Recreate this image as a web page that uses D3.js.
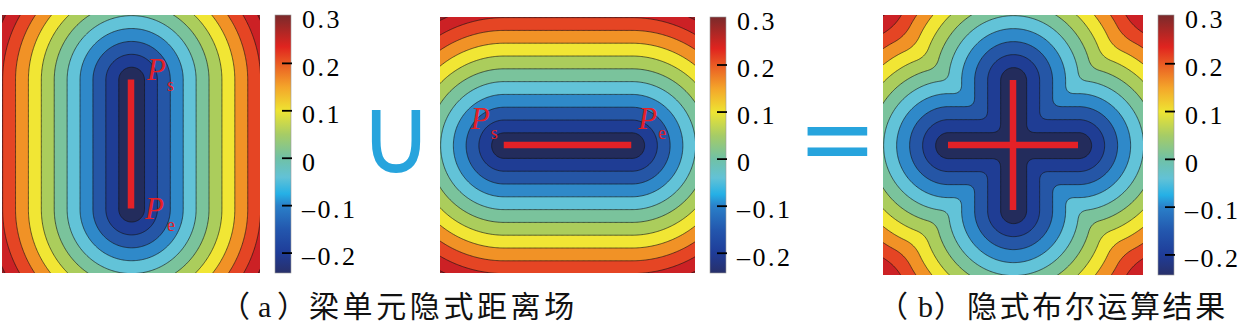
<!DOCTYPE html>
<html><head><meta charset="utf-8">
<script src="https://cdn.jsdelivr.net/npm/d3@7"></script>
<style>html,body{margin:0;padding:0;background:#fff;overflow:hidden}svg{display:block}</style>
</head><body><svg id="c" width="1247" height="331"></svg>
<script>
// ---------------- data ----------------
const segVertical = [[0.5, 0.25], [0.5, 0.75]];     // beam element a (vertical)
const segHorizontal = [[0.25, 0.5], [0.75, 0.5]];   // beam element b (horizontal)
const offsetRadius = 0.25;                          // implicit field = distance - radius
const blendK = 0.035;                               // smooth boolean union blend
const levels = [-0.2, -0.15, -0.1, -0.05, 0, 0.05, 0.1, 0.15, 0.2, 0.25, 0.3];
const bandColors = ["#232c5c", "#1f3d94", "#2556a6", "#2f89c9", "#62c3d8", "#7ac39c",
                    "#abcd5c", "#f1e634", "#f19226", "#e54524", "#cc2125", "#941e24"];
const cbStopValues = [-0.242, -0.2, -0.15, -0.1, -0.075, -0.04, 0, 0.05, 0.1, 0.15, 0.2, 0.235, 0.302];
const cbStopColors = ["#28306a", "#1f3c98", "#2357ae", "#2a80c9", "#25b0e6", "#62c2d6", "#70c1a6",
                      "#a6cc66", "#eee432", "#f4a52a", "#ea5a23", "#e0241f", "#7a2a2b"];
const cbDomain = [-0.242, 0.302];
const cbTicks = [-0.2, -0.1, 0, 0.1, 0.2, 0.3];
const cbTickLabels = ["–0.2", "–0.1", "0", "0.1", "0.2", "0.3"];
const captionA = ["（", "a", "）", "梁单元隐式距离场"];
const captionB = ["（", "b", "）", "隐式布尔运算结果"];
const unionSymbol = "∪";
const equalSymbol = "=";

// ---------------- layout ----------------
const SERIF = "'Liberation Serif', 'Times New Roman', 'DejaVu Serif', serif";
const panels = [
  {plot: [2, 15, 260, 273], cb: [275, 15, 291, 273], segs: [segVertical], union: false,
   labels: [{seg: 0, end: 0, p: [16, 0], s: [36, 11], sub: "s"},
            {seg: 0, end: 1, p: [14, 10], s: [36, 22], sub: "e"}]},
  {plot: [440, 17, 695, 273], cb: [710, 17, 726, 273], segs: [segHorizontal], union: false,
   labels: [{seg: 0, end: 0, p: [-33, -16], s: [-13, -6], sub: "s"},
            {seg: 0, end: 1, p: [7, -16], s: [27, -6], sub: "e"}]},
  {plot: [883, 15, 1143, 275], cb: [1158, 15, 1174, 275], segs: [segVertical, segHorizontal], union: true,
   labels: []}
];

const svg = d3.select("#c");
svg.append("rect").attr("width", 1247).attr("height", 331).attr("fill", "#fff");
const defs = svg.append("defs");

function segDist(px, py, s) {
  const ax = s[0][0], ay = s[0][1], bx = s[1][0], by = s[1][1];
  const dx = bx - ax, dy = by - ay;
  let t = ((px - ax) * dx + (py - ay) * dy) / (dx * dx + dy * dy);
  t = Math.max(0, Math.min(1, t));
  return Math.hypot(px - ax - t * dx, py - ay - t * dy);
}
function smin(a, b, k) {
  const h = Math.max(k - Math.abs(a - b), 0) / k;
  return Math.min(a, b) - h * h * k * 0.25;
}

// gradient for colorbars
const grad = defs.append("linearGradient").attr("id", "cbgrad")
  .attr("x1", 0).attr("y1", 1).attr("x2", 0).attr("y2", 0);
cbStopValues.forEach((v, i) => {
  grad.append("stop").attr("offset", (v - cbDomain[0]) / (cbDomain[1] - cbDomain[0]))
    .attr("stop-color", cbStopColors[i]);
});

const n = 221, g0 = -0.03, g1 = 1.03, step = (g1 - g0) / (n - 1);

panels.forEach((P, pi) => {
  const [x0, y0, x1, y1] = P.plot;
  const xs = d3.scaleLinear([0, 1], [x0, x1]);
  const ys = d3.scaleLinear([0, 1], [y0, y1]);
  const values = new Float64Array(n * n);
  for (let j = 0; j < n; j++) {
    for (let i = 0; i < n; i++) {
      const px = g0 + i * step, py = g0 + j * step;
      let f = segDist(px, py, P.segs[0]) - offsetRadius;
      for (let k = 1; k < P.segs.length; k++) {
        const f2 = segDist(px, py, P.segs[k]) - offsetRadius;
        f = P.union ? smin(f, f2, blendK) : Math.min(f, f2);
      }
      values[j * n + i] = f;
    }
  }
  const contours = d3.contours().size([n, n]).thresholds(levels)(values);
  const proj = d3.geoTransform({
    point: function (x, y) { this.stream.point(xs(g0 + x * step), ys(g0 + y * step)); }
  });
  const path = d3.geoPath(proj);
  defs.append("clipPath").attr("id", "clip" + pi).append("rect")
    .attr("x", x0).attr("y", y0).attr("width", x1 - x0).attr("height", y1 - y0);
  const g = svg.append("g").attr("clip-path", `url(#clip${pi})`);
  g.append("rect").attr("x", x0).attr("y", y0).attr("width", x1 - x0).attr("height", y1 - y0)
    .attr("fill", bandColors[0]);
  g.selectAll("path.band").data(contours).join("path").attr("class", "band")
    .attr("d", path).attr("fill", (d, i) => bandColors[i + 1]);
  g.selectAll("path.line").data(contours).join("path").attr("class", "line")
    .attr("d", path).attr("fill", "none").attr("stroke", "#151515").attr("stroke-width", 0.75)
    .attr("stroke-opacity", 0.85);

  // segments
  svg.append("g").selectAll("line").data(P.segs).join("line")
    .attr("x1", d => xs(d[0][0])).attr("y1", d => ys(d[0][1]))
    .attr("x2", d => xs(d[1][0])).attr("y2", d => ys(d[1][1]))
    .attr("stroke", "#e42127").attr("stroke-width", 6.5);

  // labels
  P.labels.forEach(L => {
    const pt = P.segs[L.seg][L.end];
    const ex = xs(pt[0]), ey = ys(pt[1]);
    svg.append("text").attr("x", ex + L.p[0]).attr("y", ey + L.p[1])
      .attr("font-family", SERIF).attr("font-style", "italic")
      .attr("font-size", 31).attr("fill", "#e42127").text("P");
    svg.append("text").attr("x", ex + L.s[0]).attr("y", ey + L.s[1])
      .attr("font-family", SERIF).attr("font-size", 18)
      .attr("fill", "#e42127").text(L.sub);
  });

  // colorbar
  const [cx0, cy0, cx1, cy1] = P.cb;
  const cs = d3.scaleLinear(cbDomain, [cy1, cy0]);
  svg.append("rect").attr("x", cx0).attr("y", cy0).attr("width", cx1 - cx0).attr("height", cy1 - cy0)
    .attr("fill", "url(#cbgrad)").attr("stroke", "#9a9a9a").attr("stroke-width", 0.6);
  const cg = svg.append("g");
  cg.selectAll("line").data(cbTicks.filter(t => cs(t) > cy0 + 3)).join("line")
    .attr("x1", cx1 - 9).attr("x2", cx1 + 1)
    .attr("y1", d => cs(d)).attr("y2", d => cs(d))
    .attr("stroke", "#000").attr("stroke-width", 1.8);
  cg.selectAll("text").data(cbTicks).join("text")
    .attr("x", cx1 + 11).attr("y", d => cs(d) + 12.3)
    .attr("font-family", SERIF).attr("font-size", 26)
    .attr("letter-spacing", 2.5).attr("fill", "#000")
    .text((d, i) => cbTickLabels[i]);
});

// operator symbols fitted into their boxes
function fitSymbol(txt, box) {
  const t = svg.append("text").attr("x", 0).attr("y", 0)
    .attr("font-family", "DejaVu Sans").attr("font-size", 100).attr("fill", "#27a4dd").text(txt);
  const cv = document.createElement("canvas"); cv.width = 200; cv.height = 200;
  const ctx = cv.getContext("2d"); ctx.font = "100px 'DejaVu Sans'"; ctx.textBaseline = "alphabetic";
  ctx.fillText(txt, 20, 150);
  const im = ctx.getImageData(0, 0, 200, 200).data;
  let minx = 200, maxx = 0, miny = 200, maxy = 0;
  for (let y = 0; y < 200; y++) for (let x = 0; x < 200; x++) {
    if (im[(y * 200 + x) * 4 + 3] > 100) {
      if (x < minx) minx = x; if (x > maxx) maxx = x; if (y < miny) miny = y; if (y > maxy) maxy = y;
    }
  }
  const gx0 = minx - 20, gx1 = maxx + 1 - 20, gy0 = miny - 150, gy1 = maxy + 1 - 150;
  const sx = (box[2] - box[0]) / (gx1 - gx0), sy = (box[3] - box[1]) / (gy1 - gy0);
  t.attr("transform", `translate(${box[0] - gx0 * sx},${box[1] - gy0 * sy}) scale(${sx},${sy})`);
}
fitSymbol(unionSymbol, [372, 110, 420, 173]);
fitSymbol(equalSymbol, [807, 127, 867, 156]);

// captions
function caption(parts, xs, ls) {
  const t = svg.append("text").attr("y", 317).attr("font-size", 30).attr("fill", "#111");
  parts.forEach((p, i) => {
    t.append("tspan").attr("x", xs[i])
      .attr("font-family", i === 1 ? SERIF : "'Noto Sans CJK SC'")
      .attr("letter-spacing", i === 3 ? ls : 0).text(p);
  });
}
caption(captionA, [220, 258, 277, 309], 3.6);
caption(captionB, [878, 918, 934, 967], 2.6);
</script></body></html>
